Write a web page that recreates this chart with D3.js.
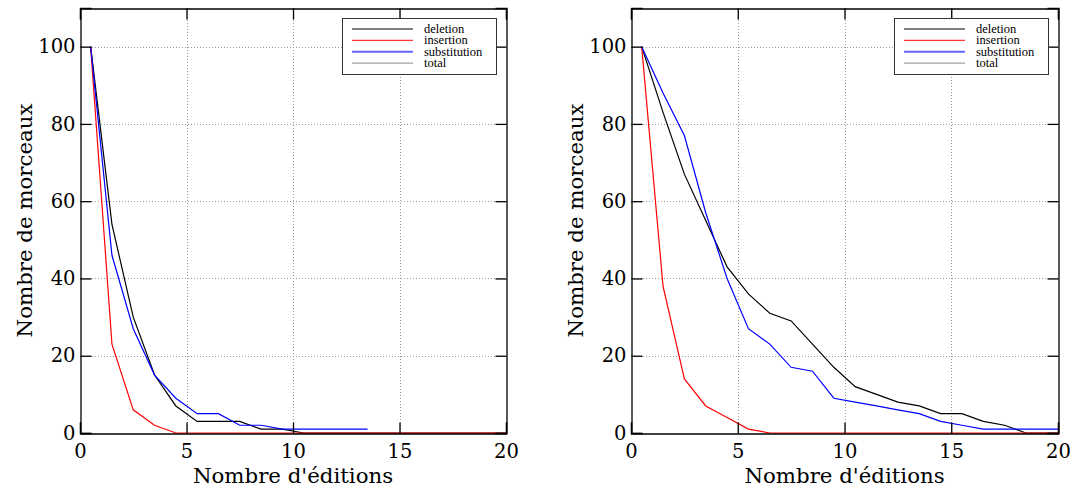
<!DOCTYPE html>
<html>
<head>
<meta charset="utf-8">
<script src="https://cdn.jsdelivr.net/npm/d3@7"></script>
<style>
  html, body { margin: 0; padding: 0; background: #fff; }
  svg { display: block; }
</style>
</head>
<body>
<svg id="chart" width="1074" height="490"></svg>
<script>
// ---- data ----
const editions = [0.5,1.5,2.5,3.5,4.5,5.5,6.5,7.5,8.5,9.5,10.5,11.5,12.5,13.5,14.5,15.5,16.5,17.5,18.5,19.5,20.5];
const seriesNames = ["deletion", "insertion", "substitution", "total"];
const seriesColors = ["#000000", "#ff0000", "#0000ff", "#808080"];
const legendColors = ["#000000", "#ff3a3a", "#6464ff", "#a0a0a0"];
const xTicks = [0, 5, 10, 15, 20];
const yTicks = [0, 20, 40, 60, 80, 100];
const xLabel = "Nombre d'éditions";
const yLabel = "Nombre de morceaux";

const leftDeletion     = [100,54,30,15,7,3,3,3,1,1,0,0,0,0,0,0,0,0,0,0,0];
const leftInsertion    = [100,23,6,2,0,0,0,0,0,0,0,0,0,0,0,0,0,0,0,0,0];
const leftSubstitution = [100,46,27,15,9,5,5,2,2,1,1,1,1,1];
const leftTotal        = [];

const rightDeletion     = [100,83,67,55,43,36,31,29,23,17,12,10,8,7,5,5,3,2,0,0,0];
const rightInsertion    = [100,38,14,7,4,1,0,0,0,0,0,0,0,0,0,0,0,0,0,0,0];
const rightSubstitution = [100,88,77,57,40,27,23,17,16,9,8,7,6,5,3,2,1,1,1,1,1];
const rightTotal        = [];

const panels = [
  { left: 80,  right: 506,  series: [leftDeletion, leftInsertion, leftSubstitution, leftTotal] },
  { left: 631, right: 1058, series: [rightDeletion, rightInsertion, rightSubstitution, rightTotal] }
];

const svg = d3.select("#chart");
const plotTop = 8, plotBottom = 433;
const tickLen = 11;
const font = "'DejaVu Serif', serif";

panels.forEach((p, pi) => {
  const x = d3.scaleLinear().domain([0, 20]).range([p.left, p.right]);
  const y = d3.scaleLinear().domain([0, 110]).range([plotBottom, plotTop]);
  const g = svg.append("g");

  // grid
  const grid = g.append("g").attr("stroke", "#9a9a9a").attr("stroke-width", 1).attr("stroke-dasharray", "1,2");
  xTicks.slice(1, -1).forEach(t => {
    grid.append("line").attr("x1", Math.round(x(t)) + 0.5).attr("x2", Math.round(x(t)) + 0.5)
      .attr("y1", plotTop).attr("y2", plotBottom);
  });
  yTicks.slice(1).forEach(t => {
    grid.append("line").attr("y1", Math.round(y(t)) + 0.5).attr("y2", Math.round(y(t)) + 0.5)
      .attr("x1", p.left).attr("x2", p.right);
  });

  // clip
  const clipId = "clip" + pi;
  svg.append("clipPath").attr("id", clipId).append("rect")
    .attr("x", p.left).attr("y", plotTop).attr("width", p.right - p.left).attr("height", plotBottom - plotTop + 2);

  const line = d3.line().x((d, i) => x(editions[i])).y(d => y(d));
  const lg = g.append("g").attr("clip-path", `url(#${clipId})`);
  p.series.forEach((s, si) => {
    if (!s.length) return;
    lg.append("path").datum(s).attr("d", line).attr("fill", "none")
      .attr("stroke", seriesColors[si]).attr("stroke-width", 1.2);
  });

  // axes with inward ticks
  const ax = g.append("g");
  const xb = d3.axisBottom(x).tickValues(xTicks).tickSize(-tickLen).tickPadding(11);
  ax.append("g").attr("transform", `translate(0,${plotBottom + 0.5})`).call(xb);
  const xt = d3.axisTop(x).tickValues(xTicks).tickSize(-tickLen).tickFormat("");
  ax.append("g").attr("transform", `translate(0,${plotTop + 0.5})`).call(xt);
  const yl = d3.axisLeft(y).tickValues(yTicks).tickSize(-tickLen).tickPadding(5);
  ax.append("g").attr("transform", `translate(${p.left + 0.5},0)`).call(yl);
  const yr = d3.axisRight(y).tickValues(yTicks).tickSize(-tickLen).tickFormat("");
  ax.append("g").attr("transform", `translate(${p.right + 0.5},0)`).call(yr);
  ax.selectAll("g").attr("font-family", font).attr("font-size", 19.5);
  ax.selectAll(".domain").attr("stroke", "#000").attr("stroke-width", 1.3);
  ax.selectAll(".tick line").attr("stroke", "#000").attr("stroke-width", 1.3);
  ax.selectAll("text").attr("fill", "#000");

  // axis labels
  g.append("text").attr("x", (p.left + p.right) / 2).attr("y", 483)
    .attr("text-anchor", "middle").attr("font-family", font).attr("font-size", 21.3)
    .text(xLabel);
  g.append("text").attr("transform", `translate(${p.left - 48},${(plotTop + plotBottom) / 2}) rotate(-90)`)
    .attr("text-anchor", "middle").attr("font-family", font).attr("font-size", 21.3)
    .text(yLabel);

  // legend
  const lx = p.right - 164, ly = 18;
  const leg = g.append("g");
  leg.append("rect").attr("x", lx + 0.5).attr("y", ly + 0.5).attr("width", 154).attr("height", 56)
    .attr("fill", "#fff").attr("stroke", "#333").attr("stroke-width", 1);
  seriesNames.forEach((n, i) => {
    const yy = ly + 11 + i * 11.4;
    leg.append("line").attr("x1", lx + 10).attr("x2", lx + 71).attr("y1", yy).attr("y2", yy)
      .attr("stroke", legendColors[i]).attr("stroke-width", i === 2 ? 2 : 1.2);
    leg.append("text").attr("x", lx + 82).attr("y", yy + 4)
      .attr("font-family", "'Liberation Serif', serif").attr("font-size", 12.5)
      .text(n);
  });
});
</script>
</body>
</html>
